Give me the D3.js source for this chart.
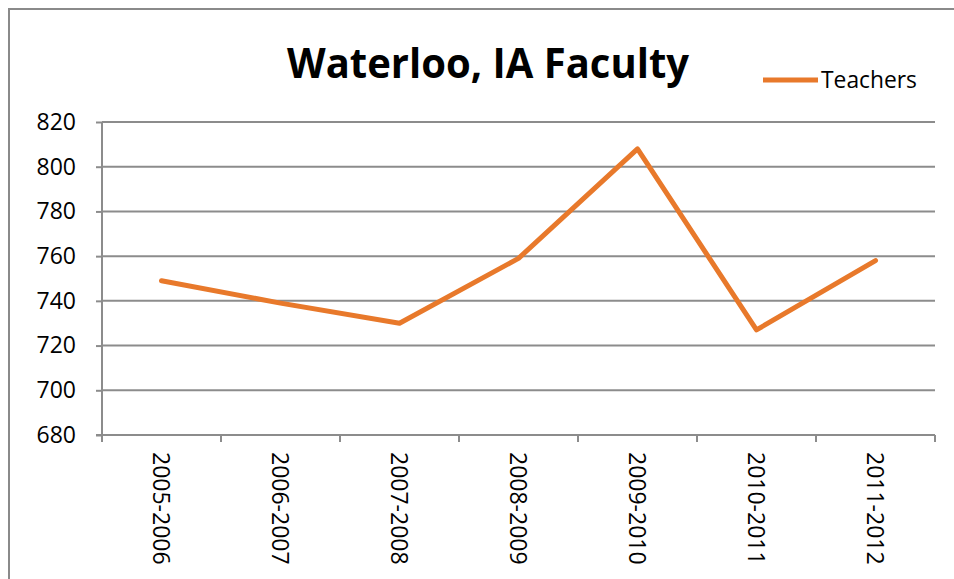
<!DOCTYPE html>
<html>
<head>
<script src="https://cdn.jsdelivr.net/npm/d3@7"></script>
<style>
  body { margin: 0; background: #fff; }
  text { font-family: "Open Sans", sans-serif; fill: #000; }
</style>
</head>
<body>
<script>
// chart data
var categories = ["2005-2006", "2006-2007", "2007-2008", "2008-2009", "2009-2010", "2010-2011", "2011-2012"];
var teachers = [749, 739, 730, 759, 808, 727, 758];
var yTicks = [680, 700, 720, 740, 760, 780, 800, 820];

var W = 954, H = 579;
var margin = {top: 122, right: 19, bottom: 144, left: 102};
var width = W - margin.left - margin.right,
    height = H - margin.top - margin.bottom;

var svg = d3.select("body").append("svg")
    .attr("width", W)
    .attr("height", H);

// outer chart frame
svg.append("rect")
    .attr("x", 9).attr("y", 9)
    .attr("width", W + 20).attr("height", H + 20)
    .attr("fill", "none")
    .attr("stroke", "#8a8a8a")
    .attr("stroke-width", 2);

var g = svg.append("g")
    .attr("transform", "translate(" + margin.left + "," + margin.top + ")");

var x = d3.scaleBand().domain(categories).range([0, width]);
var y = d3.scaleLinear().domain([680, 820]).range([height, 0]);

// gridlines
g.append("g")
    .selectAll("line")
    .data(yTicks.slice(1))
    .join("line")
      .attr("x1", 0).attr("x2", width)
      .attr("y1", function(d) { return y(d); })
      .attr("y2", function(d) { return y(d); })
      .attr("stroke", "#8c8c8c")
      .attr("stroke-width", 2);

// y axis
var yAxis = g.append("g")
    .call(d3.axisLeft(y).tickValues(yTicks).tickSize(6).tickPadding(20));
yAxis.selectAll("line, path").attr("stroke", "#8c8c8c").attr("stroke-width", 2);
yAxis.select(".domain").attr("d", "M0," + height + "V0");
yAxis.selectAll("text")
    .style("font-family", "'Open Sans', sans-serif")
    .style("font-size", "23px")
    .attr("fill", "#000");

// x axis with ticks at band edges
var xAxis = g.append("g")
    .attr("transform", "translate(0," + height + ")");
xAxis.append("line")
    .attr("x1", -6).attr("x2", width)
    .attr("stroke", "#8c8c8c").attr("stroke-width", 2);
xAxis.selectAll(".edge")
    .data(categories.concat([null]))
    .join("line")
      .attr("class", "edge")
      .attr("x1", function(d, i) { return i * x.bandwidth(); })
      .attr("x2", function(d, i) { return i * x.bandwidth(); })
      .attr("y1", 0).attr("y2", 7)
      .attr("stroke", "#8c8c8c").attr("stroke-width", 2);
xAxis.selectAll(".lbl")
    .data(categories)
    .join("text")
      .attr("class", "lbl")
      .attr("transform", function(d) {
        return "translate(" + (x(d) + x.bandwidth() / 2) + ",17) rotate(90)";
      })
      .attr("dy", "0.35em")
      .attr("text-anchor", "start")
      .style("font-size", "23px")
      .text(function(d) { return d; });

// line
var line = d3.line()
    .x(function(d, i) { return x(categories[i]) + x.bandwidth() / 2; })
    .y(function(d) { return y(d); });

g.append("path")
    .datum(teachers)
    .attr("fill", "none")
    .attr("stroke", "#E8792B")
    .attr("stroke-width", 5)
    .attr("stroke-linejoin", "round")
    .attr("stroke-linecap", "round")
    .attr("d", line);

// title
svg.append("text")
    .attr("x", 287).attr("y", 78)
    .attr("textLength", 402)
    .attr("lengthAdjust", "spacingAndGlyphs")
    .style("font-size", "42px")
    .style("font-weight", "bold")
    .text("Waterloo, IA Faculty");

// legend
svg.append("line")
    .attr("x1", 763).attr("x2", 818)
    .attr("y1", 80).attr("y2", 80)
    .attr("stroke", "#E8792B")
    .attr("stroke-width", 5);
svg.append("text")
    .attr("x", 821).attr("y", 88)
    .attr("textLength", 96)
    .attr("lengthAdjust", "spacingAndGlyphs")
    .style("font-size", "23px")
    .text("Teachers");
</script>
</body>
</html>
